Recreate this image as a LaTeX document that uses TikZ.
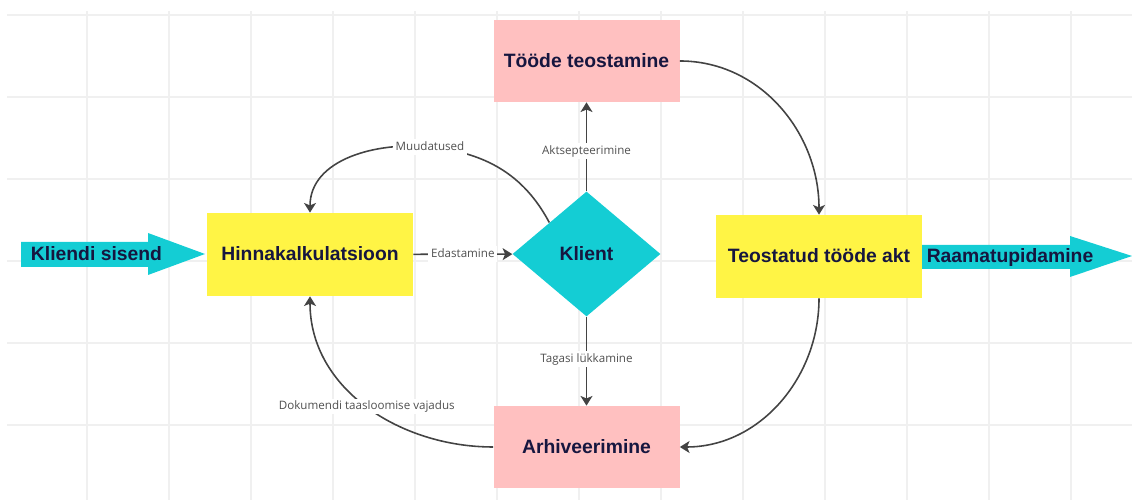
\documentclass[tikz,border=0pt]{standalone}
\usepackage{fontspec}
\setmainfont{Liberation Sans}
\newfontfamily\notefont{Open Sans}
\usetikzlibrary{shapes.geometric,arrows.meta}
\definecolor{docyellow}{HTML}{FFF445}
\definecolor{workpink}{HTML}{FFC0C0}
\definecolor{clientcyan}{HTML}{14CDD4}
\definecolor{inkblue}{HTML}{16163F}
\definecolor{linegray}{HTML}{434343}
\definecolor{notegray}{HTML}{505050}
\definecolor{gridgray}{HTML}{F0F0F0}

\begin{document}
\begin{tikzpicture}[text depth=1pt, >={Stealth[length=5.5pt,width=6.8pt,inset=1.4pt]}]
	\tikzstyle {Doc}      = [shape=rectangle, fill=docyellow, text=inkblue, font=\bfseries\fontsize{11}{13}\selectfont, minimum width=41.2mm, minimum height=16.6mm, inner sep=0pt]
	\tikzstyle {Work}     = [shape=rectangle, fill=workpink, text=inkblue, font=\bfseries\fontsize{11}{13}\selectfont, minimum width=37.2mm, minimum height=16.4mm, inner sep=0pt]
	\tikzstyle {Decision} = [shape=diamond, fill=clientcyan, text=inkblue, font=\bfseries\fontsize{11}{13}\selectfont, minimum width=29.6mm, minimum height=25mm, inner sep=0pt]
	\tikzstyle {Big}      = [fill=clientcyan]
	\tikzstyle {BigText}  = [text=inkblue, font=\bfseries\fontsize{11}{13}\selectfont, inner sep=0pt]
	\tikzstyle {Note}     = [fill=white, text=notegray, font=\notefont\fontsize{6.6}{8}\selectfont, inner sep=1.5pt]
	\tikzstyle {flow}     = [->, draw=linegray, line width=0.9pt]
	\tikzstyle {Grid}     = [draw=gridgray, line width=0.9pt]

	\useasboundingbox (0,0) rectangle (22.64,10);

	% background grid
	\foreach \x in {0,...,12}
		\draw[Grid] ({1.74+1.64*\x},0) -- ({1.74+1.64*\x},9.78);
	\foreach \y in {0,...,5}
		\draw[Grid] (0.14,{9.70-1.64*\y}) -- (22.64,{9.70-1.64*\y});

	% in and out arrows
	\fill[Big] (0.42,5.16) -- (2.96,5.16) -- (2.96,5.34) -- (4.10,4.92) -- (2.96,4.50) -- (2.96,4.66) -- (0.42,4.66) -- cycle;
	\node[BigText] (Input) at (1.93,4.92) {Kliendi sisend};
	\fill[Big] (18.44,5.10) -- (21.40,5.10) -- (21.40,5.28) -- (22.64,4.88) -- (21.40,4.46) -- (21.40,4.62) -- (18.44,4.62) -- cycle;
	\node[BigText] (Output) at (20.20,4.88) {Raamatupidamine};

	% boxes
	\node[Doc] (Calc) at (6.20,4.91) {Hinnakalkulatsioon};
	\node[Decision] (Client) at (11.73,4.92) {Klient};
	\node[Work] (Work-1) at (11.73,8.78) {Tööde teostamine};
	\node[Work] (Work-2) at (11.73,1.06) {Arhiveerimine};
	\node[Doc] (Act) at (16.38,4.87) {Teostatud tööde akt};

	\coordinate (Muud-via) at (8.60,7.06);

	% connectors
	\draw[flow] (Calc) -- node[Note] (Note-1) {Edastamine} (Client);
	\draw[flow] (Client) -- node[Note, pos=0.45] (Note-2) {Aktsepteerimine} (Work-1);
	\draw[flow] (Client) -- node[Note, pos=0.47] (Note-3) {Tagasi lükkamine} (Work-2);
	\draw[flow] (Work-1.east) to[out=0, in=90] (Act.north);
	\draw[flow] (Act.south) to[out=-90, in=0] (Work-2.east);
	\draw[flow] (Work-2.west) to[out=180, in=-90] node[Note] (Note-4) {Dokumendi taasloomise vajadus} (Calc.south);
	\draw[flow] (Client.north west) to[out=118, in=-6] (Muud-via) node[Note] (Note-5) {Muudatused} to[out=174, in=90] (Calc.north);
\end{tikzpicture}
\end{document}
